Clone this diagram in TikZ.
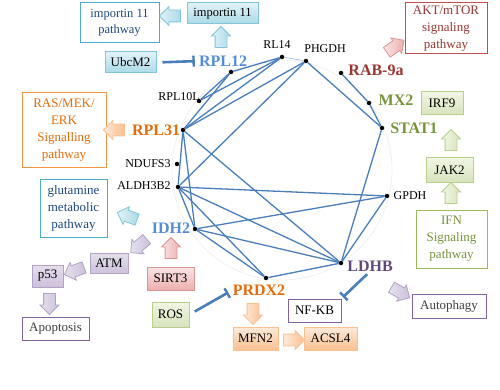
\documentclass[tikz,border=0pt]{standalone}
\usepackage{fontspec}
\setmainfont{Liberation Serif}
\usepackage{xcolor}
\usepackage{tikz}
\usetikzlibrary{arrows.meta, positioning, calc, shapes.arrows}

\definecolor{netblue}{RGB}{74,126,187}
\definecolor{lblblue}{RGB}{85,142,213}
\definecolor{lblorange}{RGB}{228,108,10}
\definecolor{lblred}{RGB}{149,55,53}
\definecolor{lblgreen}{RGB}{119,147,60}
\definecolor{lblpurple}{RGB}{96,74,123}
\definecolor{navy}{RGB}{31,73,125}
\definecolor{tealline}{RGB}{75,172,198}
\definecolor{cyanlight}{RGB}{225,242,247}
\definecolor{cyanmid}{RGB}{170,218,232}
\definecolor{cyanline}{RGB}{130,196,216}
\definecolor{orangelight}{RGB}{253,234,218}
\definecolor{orangemid}{RGB}{250,192,144}
\definecolor{orangeline}{RGB}{247,150,70}
\definecolor{lavlight}{RGB}{229,224,236}
\definecolor{lavmid}{RGB}{204,193,218}
\definecolor{lavline}{RGB}{178,162,199}
\definecolor{purpleline}{RGB}{128,100,162}
\definecolor{pinklight}{RGB}{250,230,229}
\definecolor{pinkmid}{RGB}{235,175,174}
\definecolor{pinkline}{RGB}{217,150,148}
\definecolor{redline}{RGB}{192,80,77}
\definecolor{greenlight}{RGB}{240,246,228}
\definecolor{greenmid}{RGB}{215,228,189}
\definecolor{greenline}{RGB}{185,208,140}
\definecolor{greendark}{RGB}{155,187,89}

\tikzset{
  dot/.style={circle, fill=black, inner sep=0pt, minimum size=4.5pt},
  gene/.style={font=\fontsize{16}{16}\selectfont\bfseries, inner sep=0pt},
  minor/.style={font=\fontsize{12}{12}\selectfont, inner sep=0pt},
  edge/.style={draw=netblue, line width=1.3pt},
  box/.style={draw, align=center, inner sep=1pt, font=\fontsize{13}{17}\selectfont, line width=1pt},
  bluebox/.style={box, draw=cyanline, top color=cyanlight, bottom color=cyanmid},
  orangebox/.style={box, draw=orangemid, top color=orangelight, bottom color=orangemid},
  lavbox/.style={box, draw=lavline, top color=lavlight, bottom color=lavmid},
  pinkbox/.style={box, draw=pinkline, top color=pinklight, bottom color=pinkmid},
  greenbox/.style={box, draw=greenline, top color=greenlight, bottom color=greenmid},
  blk/.style={single arrow, inner xsep=0pt, inner ysep=5.5pt, minimum height=21pt,
    single arrow head extend=3.5pt, single arrow head indent=0pt, line width=0.8pt},
  bluearr/.style={blk, draw=cyanline, left color=cyanlight, right color=cyanmid},
  orangearr/.style={blk, draw=orangemid, left color=orangelight, right color=orangemid},
  lavarr/.style={blk, draw=lavline, left color=lavlight, right color=lavmid},
  pinkarr/.style={blk, draw=pinkline, left color=pinklight, right color=pinkmid},
  greenarr/.style={blk, draw=greenline, left color=greenlight, right color=greenmid},
  inhibit/.style={-{Bar[width=11pt, line width=2.4pt]}, draw=netblue, line width=2.6pt}
}

\begin{document}
\begin{tikzpicture}[x=1pt, y=-1pt]
        \useasboundingbox (0,0) rectangle (500,390);

        % Network circle
        \draw[gray!12, line width=0.8pt] (282,170) circle (110);

        % Genes
        \node[dot] (rl14)   at (282, 57) {};
        \node[dot] (phgdh)  at (306, 61) {};
        \node[dot] (rab)    at (341, 73) {};
        \node[dot] (mx2)    at (369,103) {};
        \node[dot] (stat1)  at (382,128) {};
        \node[dot] (gpdh)   at (387,196) {};
        \node[dot] (ldhb)   at (341,263) {};
        \node[dot] (prdx2)  at (266,278) {};
        \node[dot] (idh2)   at (195,229) {};
        \node[dot] (aldh)   at (178,187) {};
        \node[dot] (ndufs3) at (177,164) {};
        \node[dot] (rpl31)  at (183,130) {};
        \node[dot] (rpl10l) at (199,101) {};
        \node[dot] (rpl12)  at (231, 72) {};

        % Gene labels
        \node[minor] (lrl14)   at (277, 45) {RL14};
        \node[minor] (lphgdh)  at (325, 49) {PHGDH};
        \node[gene, text=lblred]    (lrab)   at (376, 70) {RAB-9a};
        \node[gene, text=lblgreen]  (lmx2)   at (396,100) {MX2};
        \node[gene, text=lblgreen]  (lstat1) at (414,128) {STAT1};
        \node[minor] (lgpdh)   at (410,196) {GPDH};
        \node[gene, text=lblpurple] (lldhb)  at (370,266) {LDHB};
        \node[gene, text=lblorange] (lprdx2) at (259,290) {PRDX2};
        \node[gene, text=lblblue]   (lidh2)  at (171,228) {IDH2};
        \node[minor] (laldh)   at (144,186) {ALDH3B2};
        \node[minor] (lndufs3) at (148,164) {NDUFS3};
        \node[gene, text=lblorange] (lrpl31) at (156,130) {RPL31};
        \node[minor] (lrpl10l) at (179, 97) {RPL10L};
        \node[gene, text=lblblue]   (lrpl12) at (223, 61) {RPL12};

        % Interactions
        \draw[edge] (rpl12) -- (rl14);
        \draw[edge] (rpl12) -- (rpl10l);
        \draw[edge] (rpl12) -- (rpl31);
        \draw[edge] (rl14) -- (rpl10l);
        \draw[edge] (rl14) -- (rpl31);
        \draw[draw=netblue!60, line width=0.5pt] (rl14) -- (phgdh);
        \draw[edge] (phgdh) -- (rpl31);
        \draw[edge] (phgdh) -- (aldh);
        \draw[edge] (phgdh) -- (stat1);
        \draw[edge] (rab) -- (mx2);
        \draw[edge] (mx2) -- (stat1);
        \draw[edge] (rpl31) -- (aldh);
        \draw[edge] (rpl31) -- (idh2);
        \draw[edge] (rpl31) -- (ldhb);
        \draw[edge] (aldh) -- (gpdh);
        \draw[edge] (aldh) -- (ldhb);
        \draw[edge] (aldh) -- (prdx2);
        \draw[edge] (aldh) -- (idh2);
        \draw[edge] (idh2) -- (gpdh);
        \draw[edge] (idh2) -- (ldhb);
        \draw[edge] (idh2) -- (prdx2);
        \draw[edge] (prdx2) -- (ldhb);
        \draw[edge] (ldhb) -- (gpdh);
        \draw[edge] (ldhb) -- (stat1);

        % Pathway boxes
        \node[box, draw=tealline, text=navy, fill=white, minimum width=79pt, minimum height=40pt, font=\fontsize{12.5}{16}\selectfont] (imppath) at (119.5,23) {importin 11\\pathway};
        \node[bluebox, minimum width=71pt, minimum height=21pt, font=\fontsize{12.5}{14}\selectfont] (imp) at (222.5,13.5) {importin 11};
        \node[bluebox, minimum width=51pt, minimum height=21pt] (ubcm2) at (130.5,62.5) {UbcM2};
        \node[box, draw=orangeline, text=lblorange, fill=white, minimum width=84pt, minimum height=75pt] (ras) at (64,130.5) {RAS/MEK/\\ERK\\Signalling\\pathway};
        \node[box, draw=tealline, text=navy, fill=white, minimum width=67pt, minimum height=58pt] (glut) at (73.5,208) {glutamine\\metabolic\\pathway};
        \node[lavbox, minimum width=38pt, minimum height=20pt] (atm) at (109,263) {ATM};
        \node[lavbox, minimum width=31pt, minimum height=22pt] (p53) at (47.5,276) {p53};
        \node[box, draw=purpleline, text=black!75, fill=white, minimum width=67pt, minimum height=23pt] (apop) at (55.5,328.5) {Apoptosis};
        \node[pinkbox, minimum width=47pt, minimum height=23pt] (sirt3) at (170.5,278.5) {SIRT3};
        \node[greenbox, minimum width=37pt, minimum height=25pt] (ros) at (170.5,314.5) {ROS};
        \node[orangebox, minimum width=45pt, minimum height=23pt] (mfn2) at (255.5,338.5) {MFN2};
        \node[orangebox, minimum width=53pt, minimum height=23pt] (acsl4) at (330.5,338.5) {ACSL4};
        \node[box, draw=purpleline, fill=white, minimum width=53pt, minimum height=23pt] (nfkb) at (314.5,310.5) {NF-KB};
        \node[box, draw=purpleline, text=black!75, fill=white, minimum width=74pt, minimum height=24pt] (autoph) at (449,306) {Autophagy};
        \node[box, draw=greendark, text=lblgreen, fill=white, minimum width=71pt, minimum height=58pt] (ifn) at (451.5,239) {IFN\\Signaling\\pathway};
        \node[greenbox, minimum width=47pt, minimum height=24pt] (jak2) at (449.5,170) {JAK2};
        \node[greenbox, minimum width=42pt, minimum height=23pt] (irf9) at (442,103.5) {IRF9};
        \node[box, draw=redline, text=lblred, fill=white, minimum width=82pt, minimum height=51pt] (akt) at (446,28.5) {AKT/mTOR\\signaling\\pathway};

        % Block arrows
        \node[bluearr, rotate=180] (a1) at (173,16) {};
        \node[bluearr, rotate=90] (a2) at (221,40) {};
        \node[orangearr, rotate=180] (a3) at (117,130) {};
        \node[bluearr, rotate=160] (a4) at (130,217) {};
        \node[lavarr, rotate=220] (a5) at (141,244) {};
        \node[lavarr, rotate=200] (a6) at (77,270) {};
        \node[lavarr, rotate=270] (a7) at (49.5,301) {};
        \node[pinkarr, rotate=90] (a8) at (171,251) {};
        \node[orangearr, rotate=270] (a9) at (253,311) {};
        \node[orangearr] (a10) at (291,340) {};
        \node[lavarr, rotate=-30] (a11) at (398,291) {};
        \node[greenarr, rotate=90] (a12) at (451,196) {};
        \node[greenarr, rotate=90] (a13) at (451,143) {};
        \node[pinkarr, rotate=35] (a14) at (393,48) {};

        % Inhibitions
        \draw[inhibit, shorten <=6pt, shorten >=4pt] (ubcm2.east) -- (lrpl12.west);
        \draw[inhibit, shorten <=6pt, shorten >=5pt] (ros.east) -- (lprdx2.west);
        \draw[inhibit, shorten <=4pt, shorten >=2pt] (lldhb.south) -- (nfkb.north east);
    \end{tikzpicture}
\end{document}
